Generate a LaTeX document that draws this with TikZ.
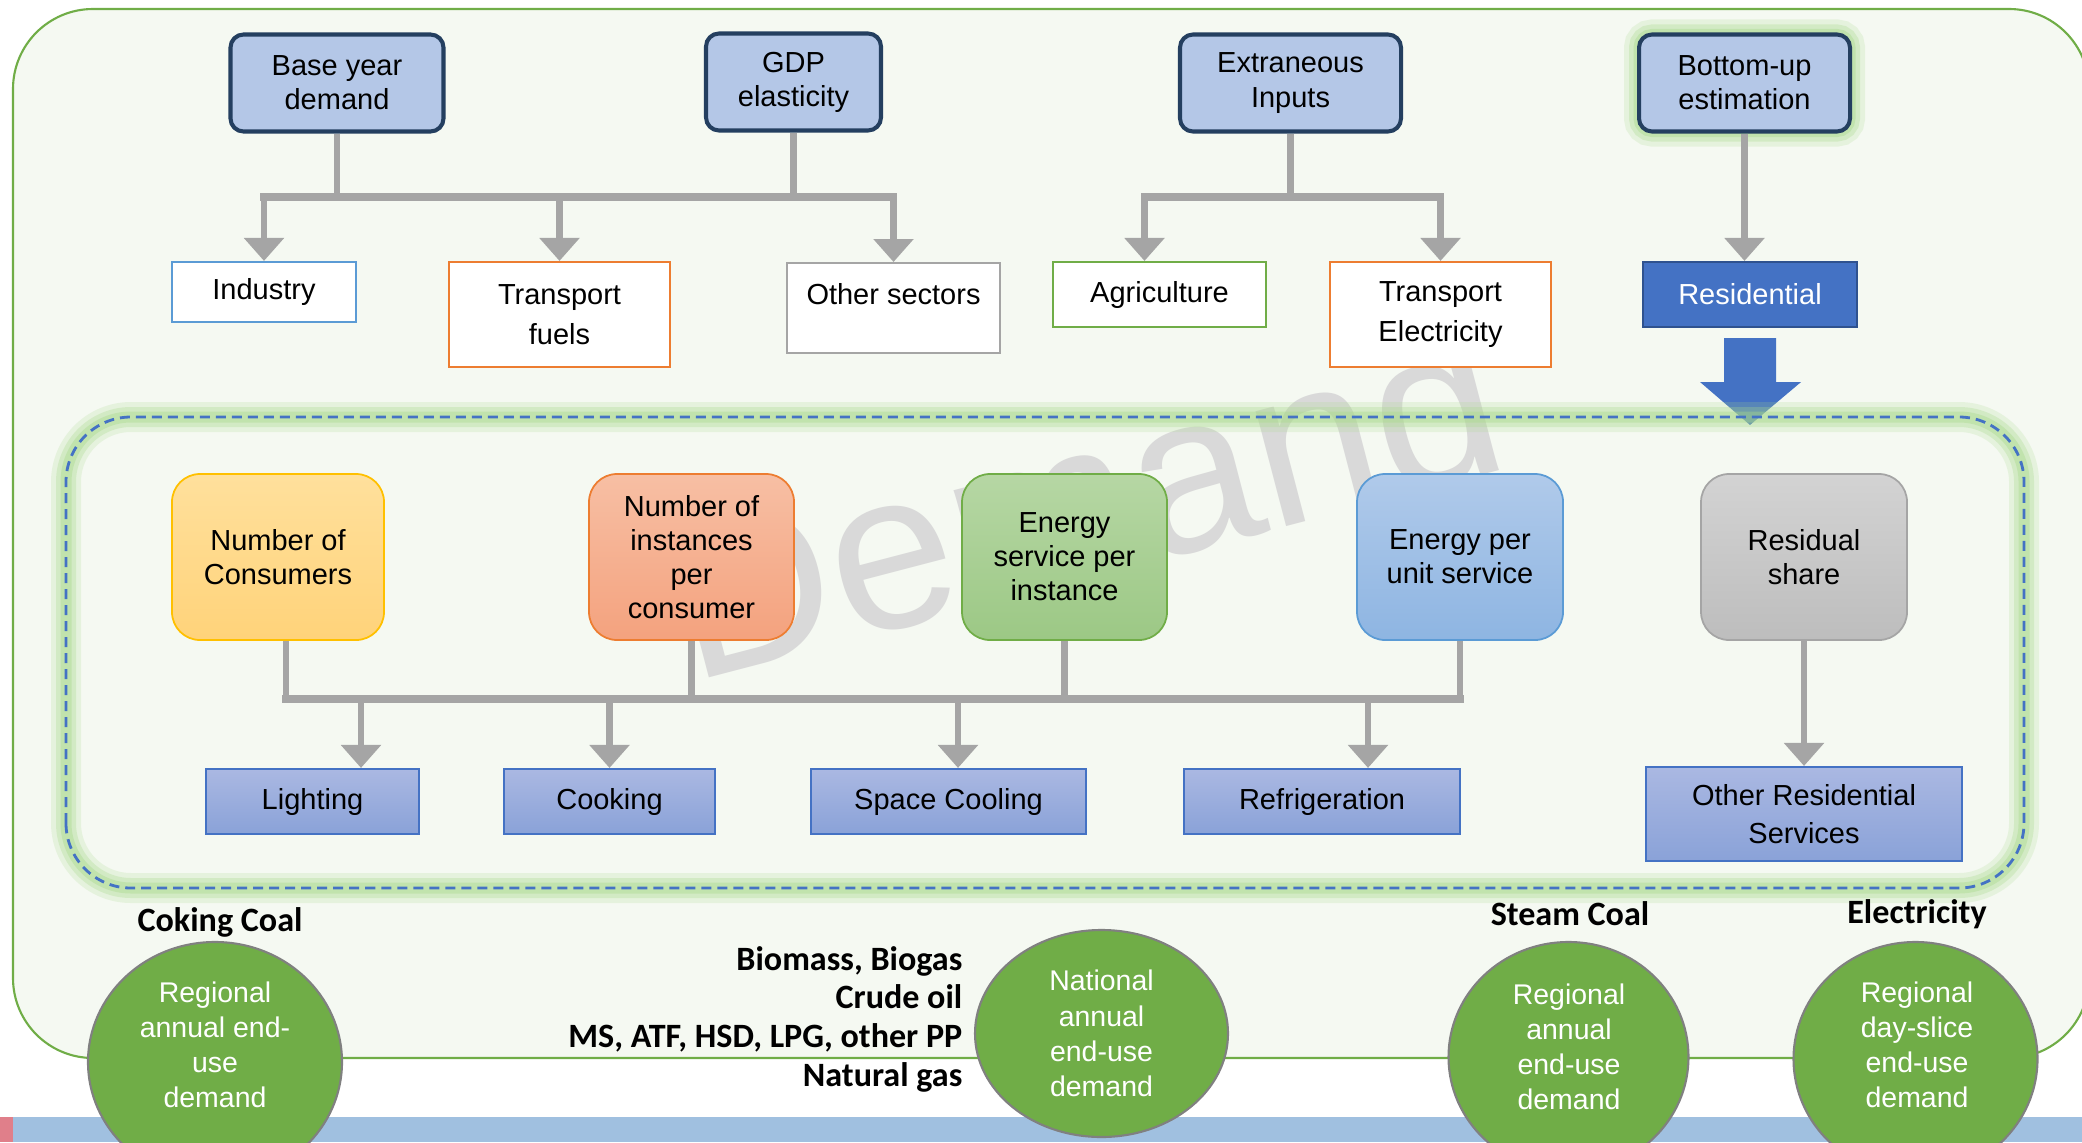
\documentclass[tikz,border=0pt]{standalone}
\usepackage{fontspec}
\setmainfont{Liberation Sans}
\newfontfamily\calibri{Carlito}
\usepackage{tikz}
\usetikzlibrary{positioning, arrows.meta, shapes.geometric}
\usepackage{xcolor}

\definecolor{bgGreen}{HTML}{F5F9F2}
\definecolor{frameGreen}{HTML}{70AD47}
\definecolor{navy}{HTML}{243F60}
\definecolor{inputBlue}{HTML}{B4C7E7}
\definecolor{linkGray}{HTML}{A5A5A5}
\definecolor{secBlue}{HTML}{5B9BD5}
\definecolor{secOrange}{HTML}{ED7D31}
\definecolor{resBlue}{HTML}{4472C4}
\definecolor{resBorder}{HTML}{2F528F}
\definecolor{glowGreen}{HTML}{A9D98B}
\definecolor{markGray}{HTML}{D9D9D9}
\definecolor{bandBlue}{HTML}{A0C0E0}
\definecolor{bandPink}{HTML}{E07F8A}
\definecolor{ringGray}{HTML}{808080}
\definecolor{consTop}{HTML}{FFE09C}
\definecolor{consBot}{HTML}{FFD37A}
\definecolor{consLine}{HTML}{FFC000}
\definecolor{instTop}{HTML}{F7BFA4}
\definecolor{instBot}{HTML}{F4A27E}
\definecolor{servTop}{HTML}{B6D7A4}
\definecolor{servBot}{HTML}{9CC885}
\definecolor{unitTop}{HTML}{B0CAEA}
\definecolor{unitBot}{HTML}{8EB5E2}
\definecolor{residTop}{HTML}{D3D3D3}
\definecolor{residBot}{HTML}{BDBDBD}
\definecolor{useTop}{HTML}{AAB8E2}
\definecolor{useBot}{HTML}{8AA2D8}
\newcommand{\boxfont}{\fontsize{8.25}{9.7}\selectfont}

\begin{document}
\begin{tikzpicture}[
    inputbox/.style={draw=navy, line width=1.15pt, fill=inputBlue, rounded corners=0.13cm,
        align=center, minimum height=0.97cm, inner sep=2pt, font=\boxfont},
    sectbox/.style={draw=#1, line width=0.6pt, fill=white, align=center, inner sep=2pt, font=\boxfont},
    factor/.style n args={3}{draw=#3, line width=0.5pt, top color=#1, bottom color=#2,
        rounded corners=0.28cm, align=center, minimum height=1.66cm, inner sep=2pt, font=\boxfont},
    usebox/.style={draw=resBlue, line width=0.6pt, top color=useTop, bottom color=useBot,
        align=center, minimum height=0.65cm, inner sep=2pt, font=\boxfont},
    glow/.style={preaction={draw=glowGreen, line width=0.30cm, opacity=0.2},
        preaction={draw=glowGreen, line width=0.20cm, opacity=0.3},
        preaction={draw=glowGreen, line width=0.11cm, opacity=0.4}},
    link/.style={draw=linkGray, line width=1.9pt},
    bus/.style={link, line width=2.1pt, line cap=rect},
    feed/.style={link, -{Triangle[width=0.39cm,length=0.23cm]}},
    fuel/.style={font=\calibri\bfseries\fontsize{9.7}{11}\selectfont},
    ring/.style={ellipse, draw=ringGray, line width=0.6pt, fill=frameGreen, inner sep=0pt},
    ringtext/.style={text=white, align=center, font=\fontsize{8.1}{10}\selectfont}
]
    \useasboundingbox (0,0) rectangle (20.82,11.42);
    \clip (0,0) rectangle (20.82,11.42);

    % Bottom band
    \fill[bandBlue] (0.13,0) rectangle (20.82,0.25);
    \fill[bandPink] (0,0) rectangle (0.13,0.25);

    % Outer frame and watermark
    \draw[frameGreen, fill=bgGreen, line width=0.6pt, rounded corners=0.8cm] (0.13,0.84) rectangle (20.89,11.33);
    \node[markGray, rotate=14.65, font=\fontsize{64}{64}\selectfont] (mark) at (10.82,6.45) {Demand};

    % Top inputs
    \node[inputbox, minimum width=2.13cm] (base) at (3.37,10.59) {Base year\\demand};
    \node[inputbox, minimum width=1.75cm] (gdp) at (7.935,10.60) {GDP\\elasticity};
    \node[inputbox, minimum width=2.21cm] (extra) at (12.905,10.59) {Extraneous\\Inputs};
    \node[inputbox, glow, minimum width=2.11cm] (bottomup) at (17.445,10.59) {Bottom-up\\estimation};

    % Sectors
    \node[sectbox=secBlue, minimum width=1.84cm, minimum height=0.60cm] (ind) at (2.64,8.50) {Industry};
    \node[sectbox=secOrange, minimum width=2.21cm, minimum height=1.05cm] (tfuel) at (5.595,8.275) {Transport\\[0.06cm]fuels};
    \node[sectbox=linkGray, minimum width=2.13cm, anchor=north, inner ysep=0pt, text height=0.41cm, text depth=0.49cm]
        (other) at (8.935,8.80) {Other sectors};
    \node[sectbox=frameGreen, minimum width=2.13cm, minimum height=0.65cm] (agri) at (11.595,8.475) {Agriculture};
    \node[sectbox=secOrange, minimum width=2.21cm, minimum height=1.05cm] (telec) at (14.405,8.275) {Transport\\[0.06cm]Electricity};
    \node[sectbox=resBorder, fill=resBlue, text=white, minimum width=2.14cm, minimum height=0.65cm] (res) at (17.50,8.475) {Residential};

    % Links from the inputs
    \coordinate (busA) at (0,9.45);
    \coordinate (agriIn) at ([xshift=-0.15cm]agri.north);
    \draw[link] (base.south) -- (base.south |- busA);
    \draw[link] (gdp.south) -- (gdp.south |- busA);
    \draw[bus] (ind.north |- busA) -- (other.north |- busA);
    \draw[feed] (ind.north |- busA) -- (ind.north);
    \draw[feed] (tfuel.north |- busA) -- (tfuel.north);
    \draw[feed] (other.north |- busA) -- (other.north);
    \draw[link] (extra.south) -- (extra.south |- busA);
    \draw[bus] (agriIn |- busA) -- (telec.north |- busA);
    \draw[feed] (agriIn |- busA) -- (agriIn);
    \draw[feed] (telec.north |- busA) -- (telec.north);
    \draw[feed] (bottomup.south) -- (bottomup.south |- res.north);

    % Big arrow into the residential block
    \coordinate (restip) at (17.50,7.17);
    \fill[resBlue] ([xshift=-0.26cm,yshift=-0.10cm]res.south) -- ++(0.52,0) -- ++(0,-0.44) -- ++(0.25,0)
        -- (res.south |- restip) -- ++(-0.50,0.43) -- ++(0.24,0) -- cycle;

    % Residential block
    \path[glow, rounded corners=0.65cm] (0.66,2.54) rectangle (20.24,7.25);
    \draw[resBlue, line width=0.8pt, dash pattern=on 0.1cm off 0.06cm, rounded corners=0.65cm] (0.66,2.54) rectangle (20.24,7.25);

    \node[factor={consTop}{consBot}{consLine}, minimum width=2.12cm] (cons) at (2.78,5.85) {Number of\\Consumers};
    \node[factor={instTop}{instBot}{secOrange}, minimum width=2.05cm] (inst) at (6.915,5.85) {Number of\\instances\\per\\consumer};
    \node[factor={servTop}{servBot}{frameGreen}, minimum width=2.05cm] (serv) at (10.645,5.85) {Energy\\service per\\instance};
    \node[factor={unitTop}{unitBot}{secBlue}, minimum width=2.06cm] (unit) at (14.60,5.85) {Energy per\\unit service};
    \node[factor={residTop}{residBot}{linkGray}, minimum width=2.06cm] (resid) at (18.04,5.85) {Residual\\share};

    \node[usebox, minimum width=2.13cm] (light) at (3.125,3.405) {Lighting};
    \node[usebox, minimum width=2.11cm] (cook) at (6.095,3.405) {Cooking};
    \node[usebox, minimum width=2.75cm] (cool) at (9.485,3.405) {Space Cooling};
    \node[usebox, minimum width=2.76cm] (refr) at (13.22,3.405) {Refrigeration};
    \node[usebox, minimum width=3.16cm, minimum height=0.94cm] (othres) at (18.04,3.28) {Other Residential\\[0.04cm]Services};

    % Links inside the block
    \coordinate (busC) at (0,4.43);
    \coordinate (consOut) at ([xshift=0.08cm]cons.south);
    \coordinate (lightIn) at ([xshift=0.485cm]light.north);
    \coordinate (coolIn) at ([xshift=0.095cm]cool.north);
    \coordinate (refrIn) at ([xshift=0.46cm]refr.north);
    \draw[link] (consOut) -- (consOut |- busC);
    \draw[link] (inst.south) -- (inst.south |- busC);
    \draw[link] (serv.south) -- (serv.south |- busC);
    \draw[link] (unit.south) -- (unit.south |- busC);
    \draw[bus] (consOut |- busC) -- (unit.south |- busC);
    \draw[feed] (lightIn |- busC) -- (lightIn);
    \draw[feed] (cook.north |- busC) -- (cook.north);
    \draw[feed] (coolIn |- busC) -- (coolIn);
    \draw[feed] (refrIn |- busC) -- (refrIn);
    \draw[feed] (resid.south) -- (othres.north);

    % Fuels and demand outputs
    \node[fuel] (coking) at (2.20,2.20) {Coking Coal};
    \node[fuel] (steamlbl) at (15.70,2.28) {Steam Coal};
    \node[fuel] (eleclbl) at (19.17,2.28) {Electricity};
    \node[fuel, anchor=east, align=right, inner sep=0pt] (fuels) at (9.63,1.23) {Biomass, Biogas\\Crude oil\\MS, ATF, HSD, LPG, other PP\\Natural gas};

    \node[ring, minimum width=2.54cm, minimum height=2.40cm] (coke) at (2.15,0.80) {};
    \node[ring, minimum width=2.53cm, minimum height=2.07cm] (natl) at (11.015,1.085) {};
    \node[ring, minimum width=2.40cm, minimum height=2.30cm] (steam) at (15.685,0.85) {};
    \node[ring, minimum width=2.44cm, minimum height=2.34cm] (elec) at (19.155,0.83) {};
    \node[ringtext] (coketext) at (2.15,0.97) {Regional\\annual end-\\use\\demand};
    \node[ringtext] (natltext) at (natl) {National\\annual\\end-use\\demand};
    \node[ringtext] (steamtext) at (15.69,0.95) {Regional\\annual\\end-use\\demand};
    \node[ringtext] (electext) at (19.17,0.97) {Regional\\day-slice\\end-use\\demand};
\end{tikzpicture}
\end{document}
